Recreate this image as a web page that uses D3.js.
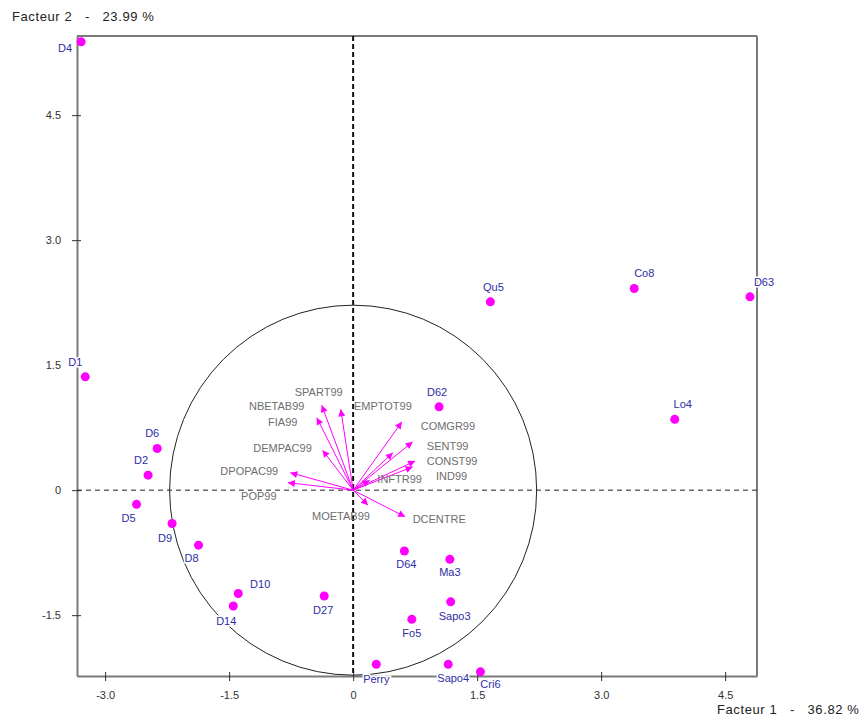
<!DOCTYPE html>
<html>
<head>
<meta charset="utf-8">
<script src="https://cdn.jsdelivr.net/npm/d3@7"></script>
<style>
  body { margin: 0; background: #fff; }
  svg { font-family: "Liberation Sans", Arial, sans-serif; }
</style>
</head>
<body>
<div id="chart"></div>
<script>
// Tick values on both factors
const xTicks = [-3.0, -1.5, 0, 1.5, 3.0, 4.5];
const yTicks = [-1.5, 0, 1.5, 3.0, 4.5];

// Observations (factor 1, factor 2)
const obsNames = ["D4", "D1", "D6", "D2", "D5", "D9", "D8", "D10", "D14", "D27", "D64", "Ma3",
                  "Sapo3", "Fo5", "Perry", "Sapo4", "Cri6", "Qu5", "Co8", "D63", "D62", "Lo4"];
const obsF1 = [-3.29, -3.24, -2.37, -2.48, -2.62, -2.19, -1.87, -1.39, -1.45, -0.35, 0.62, 1.17,
               1.18, 0.71, 0.28, 1.15, 1.54, 1.66, 3.40, 4.80, 1.04, 3.89];
const obsF2 = [5.38, 1.36, 0.50, 0.18, -0.17, -0.40, -0.66, -1.24, -1.39, -1.27, -0.73, -0.83,
               -1.34, -1.55, -2.09, -2.09, -2.18, 2.26, 2.42, 2.32, 1.00, 0.85];

// Active variables (arrow tips)
const varNames = ["SPART99", "NBETAB99", "FIA99", "DEMPAC99", "EMPTOT99", "DPOPAC99", "POP99",
                  "MOETAB99", "DCENTRE", "INFTR99", "COMGR99", "SENT99", "CONST99", "IND99"];
const varF1 = [-0.15, -0.38, -0.44, -0.37, 0.48, -0.76, -0.79, 0.18, 0.63, 0.20, 0.59, 0.72, 0.75, 0.72];
const varF2 = [0.97, 1.02, 0.87, 0.48, 0.45, 0.21, 0.09, -0.18, -0.32, 0.12, 0.82, 0.58, 0.35, 0.28];

// Correlation circle radius (in factor units)
const circleRadius = 2.22;

// Label placement (pixel offsets from the mark)
const obsLabelDx = [-16, -10, -5, -7, -8, -7, -7, 22, -7, -1, 2, 0, 4, 0, 0, 5, 10, 3, 10, 14, -2, 8];
const obsLabelDy = [7, -14, -14, -14, 15, 16, 14, -8, 16, 15, 14, 14, 15, 15, 16, 15, 13, -14, -14, -14, -14, -14];
const varLabelDx = [-22, -45, -34, -40, -10, -41, -29, -27, 34, 30, 46, 35, 37, 39];
const varLabelDy = [-16, 2, 5, -1, -46, -1, 14, 12, 3, 0, 5, 5, 1, 10];

const width = 866, height = 720;
const margin = { top: 36, right: 109, bottom: 44, left: 77 };

const svg = d3.select("#chart").append("svg")
    .attr("width", width)
    .attr("height", height);

const x = d3.scaleLinear().domain([-3.34, 4.885]).range([margin.left, width - margin.right]);
const y = d3.scaleLinear().domain([-2.23, 5.45]).range([height - margin.bottom, margin.top]);

const fmt = d => d === 0 ? "0" : d.toFixed(1);
const axisColor = "#7a7a7a";

// Frame: top and right borders
svg.append("line")
    .attr("x1", x.range()[0]).attr("x2", x.range()[1])
    .attr("y1", y.range()[1]).attr("y2", y.range()[1])
    .attr("stroke", axisColor).attr("stroke-width", 2);
svg.append("line")
    .attr("x1", x.range()[1]).attr("x2", x.range()[1])
    .attr("y1", y.range()[1]).attr("y2", y.range()[0])
    .attr("stroke", axisColor).attr("stroke-width", 2);

// X axis
const gx = svg.append("g")
    .attr("transform", `translate(0,${y.range()[0]})`)
    .call(d3.axisBottom(x).tickValues(xTicks).tickFormat(fmt).tickSizeOuter(0).tickPadding(9));
gx.select(".domain").attr("stroke", axisColor).attr("stroke-width", 2);
gx.selectAll(".tick line").attr("y1", -4).attr("y2", 5).attr("stroke", "#333");
gx.selectAll(".tick text").attr("font-size", 11).attr("fill", "#333").attr("font-family", "inherit");

// Y axis
const gy = svg.append("g")
    .attr("transform", `translate(${x.range()[0]},0)`)
    .call(d3.axisLeft(y).tickValues(yTicks).tickFormat(fmt).tickSizeOuter(0).tickPadding(10));
gy.select(".domain").attr("stroke", axisColor).attr("stroke-width", 2);
gy.selectAll(".tick line").attr("x1", -5).attr("x2", 4).attr("stroke", "#333");
gy.selectAll(".tick text").attr("font-size", 11).attr("fill", "#333").attr("font-family", "inherit");

// Zero lines (dashed)
svg.append("line")
    .attr("x1", x.range()[0]).attr("x2", x.range()[1])
    .attr("y1", y(0)).attr("y2", y(0))
    .attr("stroke", "#222").attr("stroke-width", 1).attr("stroke-dasharray", "5,4");
svg.append("line")
    .attr("x1", x(0)).attr("x2", x(0))
    .attr("y1", y.range()[1]).attr("y2", y.range()[0])
    .attr("stroke", "#111").attr("stroke-width", 2).attr("stroke-dasharray", "5,3");

// Correlation circle
svg.append("ellipse")
    .attr("cx", x(0)).attr("cy", y(0))
    .attr("rx", x(circleRadius) - x(0))
    .attr("ry", y(0) - y(circleRadius))
    .attr("fill", "none")
    .attr("stroke", "#222")
    .attr("stroke-width", 1);

// Arrowhead marker
svg.append("defs").append("marker")
    .attr("id", "arrow")
    .attr("viewBox", "0 0 10 10")
    .attr("refX", 10).attr("refY", 5)
    .attr("markerWidth", 8).attr("markerHeight", 7)
    .attr("markerUnits", "userSpaceOnUse")
    .attr("orient", "auto")
    .append("path")
    .attr("d", "M0,0L10,5L0,10Z")
    .attr("fill", "#ff00ff");

const vars = varNames.map((n, i) => ({ name: n, f1: varF1[i], f2: varF2[i], dx: varLabelDx[i], dy: varLabelDy[i] }));

svg.selectAll(".vec")
    .data(vars)
    .enter()
    .append("line")
    .attr("class", "vec")
    .attr("x1", x(0)).attr("y1", y(0))
    .attr("x2", d => x(d.f1)).attr("y2", d => y(d.f2))
    .attr("stroke", "#ff00ff")
    .attr("stroke-width", 1)
    .attr("marker-end", "url(#arrow)");

svg.selectAll(".vlabel")
    .data(vars)
    .enter()
    .append("text")
    .attr("class", "vlabel")
    .attr("x", d => x(d.f1) + d.dx)
    .attr("y", d => y(d.f2) + d.dy)
    .attr("text-anchor", "middle")
    .attr("dominant-baseline", "middle")
    .attr("font-size", 11)
    .attr("fill", "#6e6e6e")
    .text(d => d.name);

// Observations
const obs = obsNames.map((n, i) => ({ name: n, f1: obsF1[i], f2: obsF2[i], dx: obsLabelDx[i], dy: obsLabelDy[i] }));

svg.selectAll(".olabel")
    .data(obs)
    .enter()
    .append("text")
    .attr("class", "olabel")
    .attr("x", d => x(d.f1) + d.dx)
    .attr("y", d => y(d.f2) + d.dy)
    .attr("text-anchor", "middle")
    .attr("dominant-baseline", "middle")
    .attr("font-size", 11)
    .attr("fill", "#2e2ea6")
    .attr("stroke", "#fff")
    .attr("stroke-width", 3)
    .attr("paint-order", "stroke")
    .text(d => d.name);

svg.selectAll(".pt")
    .data(obs)
    .enter()
    .append("circle")
    .attr("class", "pt")
    .attr("cx", d => x(d.f1))
    .attr("cy", d => y(d.f2))
    .attr("r", 4.5)
    .attr("fill", "#ff00ff");

// Axis titles
svg.append("text")
    .attr("x", 12).attr("y", 18)
    .attr("dominant-baseline", "middle")
    .attr("font-size", 13)
    .attr("fill", "#222")
    .attr("letter-spacing", 0.6)
    .style("white-space", "pre")
    .text("Facteur 2   -   23.99 %");

svg.append("text")
    .attr("x", 717).attr("y", 711)
    .attr("dominant-baseline", "middle")
    .attr("font-size", 13)
    .attr("fill", "#222")
    .attr("letter-spacing", 0.6)
    .style("white-space", "pre")
    .text("Facteur 1   -   36.82 %");
</script>
</body>
</html>
